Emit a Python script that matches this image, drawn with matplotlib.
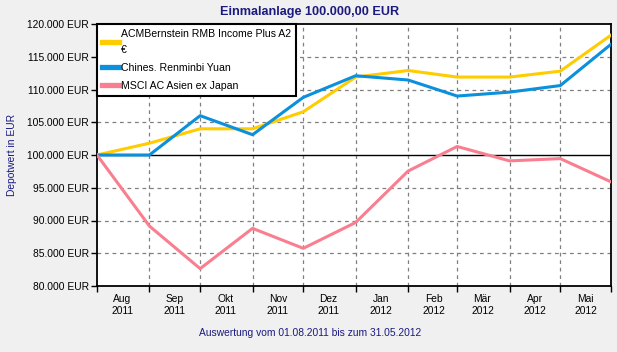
import datetime as dt

import matplotlib.pyplot as plt
from matplotlib.ticker import FuncFormatter

dates = [
    dt.date(2011, 8, 1), dt.date(2011, 9, 1), dt.date(2011, 10, 1),
    dt.date(2011, 11, 1), dt.date(2011, 12, 1), dt.date(2012, 1, 1),
    dt.date(2012, 2, 1), dt.date(2012, 3, 1), dt.date(2012, 4, 1),
    dt.date(2012, 5, 1), dt.date(2012, 5, 31),
]
acm = [100000, 101800, 104000, 104000, 106600, 111900, 112900, 111900, 111900, 112800, 118300]
cny = [100000, 100000, 106000, 103100, 108800, 112100, 111450, 109000, 109600, 110600, 116900]
msci = [100000, 89150, 82650, 88800, 85750, 89700, 97550, 101300, 99100, 99450, 95900]

series_names = ["ACMBernstein RMB Income Plus A2\n€", "Chines. Renminbi Yuan", "MSCI AC Asien ex Japan"]
series_colors = ["#ffcc00", "#0a90dc", "#f97f90"]

month_labels = ["Aug\n2011", "Sep\n2011", "Okt\n2011", "Nov\n2011", "Dez\n2011",
                "Jan\n2012", "Feb\n2012", "Mär\n2012", "Apr\n2012", "Mai\n2012"]
label_dates = [dt.date(d.year, d.month, 16) for d in dates[:-1]]

navy = "#1a1a80"
plt.rcParams["font.family"] = ["Liberation Sans", "DejaVu Sans"]

fig = plt.figure(figsize=(6.17, 3.52), dpi=100, facecolor="#f0f0f0")
ax = fig.add_axes([97 / 617, 66 / 352, 514 / 617, 262 / 352])
ax.set_facecolor("white")

for vals, name, col in zip([acm, cny, msci], series_names, series_colors):
    ax.plot(dates, vals, color=col, lw=2.2, label=name, zorder=3)

ax.set_ylim(80000, 120000)
ax.set_yticks(range(80000, 120001, 5000))
ax.yaxis.set_major_formatter(FuncFormatter(lambda v, p: f"{int(v):,} EUR".replace(",", ".")))
ax.set_xlim(dates[0], dates[-1])
ax.set_xticks(dates)
ax.set_xticklabels([])
ax.set_xticks(label_dates, minor=True)
ax.set_xticklabels(month_labels, minor=True)
ax.tick_params(axis="x", which="minor", length=0, pad=6, labelsize=7.4, colors="black")
ax.tick_params(axis="x", which="major", length=4, width=1)
ax.tick_params(axis="y", length=4, width=1, labelsize=7.4, pad=2)

# gridlines, with the 100.000 line solid
for y in range(85000, 120000, 5000):
    if y == 100000:
        ax.axhline(y, color="black", lw=1, zorder=2)
    else:
        ax.axhline(y, color="#808080", lw=0.9, ls=(0, (3, 3)), zorder=1)
for d in dates[1:-1]:
    ax.axvline(d, color="#808080", lw=0.9, ls=(0, (3, 3)), zorder=1)

for s in ax.spines.values():
    s.set_linewidth(1.3)
    s.set_color("black")

leg = ax.legend(loc="upper left", borderaxespad=0, fancybox=False, fontsize=7.6,
                handlelength=1.6, handletextpad=0.15, labelspacing=0.75,
                borderpad=0.5, framealpha=1)
leg.get_frame().set_edgecolor("black")
leg.get_frame().set_linewidth(1.5)
leg.get_texts()[0].set_linespacing(1.7)
for h in leg.legend_handles:
    h.set_linewidth(3.8)
leg.set_zorder(5)

fig.text(310 / 617, 1 - 12.5 / 352, "Einmalanlage 100.000,00 EUR", ha="center", va="center",
         fontsize=9.1, fontweight="bold", color=navy)
fig.text(12 / 617, 1 - 155 / 352, "Depotwert in EUR", rotation=90, ha="center",
         va="center", fontsize=7.4, color=navy)
fig.text(310 / 617, 1 - 333 / 352, "Auswertung vom 01.08.2011 bis zum 31.05.2012",
         ha="center", va="center", fontsize=7.4, color=navy)

fig.savefig("out.png", dpi=100, facecolor=fig.get_facecolor())
